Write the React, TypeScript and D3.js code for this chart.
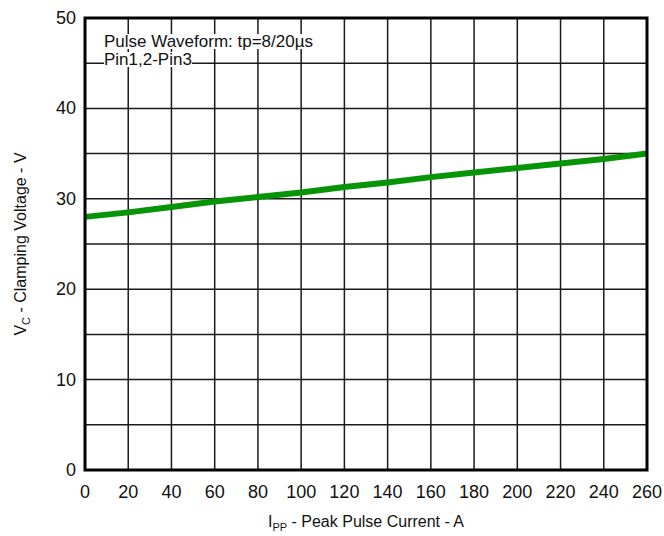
import React, { useEffect, useRef } from "react";
import * as d3 from "d3";

const currentA = [0, 20, 40, 60, 80, 100, 120, 140, 160, 180, 200, 220, 240, 260];
const clampV = [28, 28.5, 29.1, 29.7, 30.2, 30.7, 31.3, 31.8, 32.4, 32.9, 33.4, 33.9, 34.4, 35];
const xTicks = [0, 20, 40, 60, 80, 100, 120, 140, 160, 180, 200, 220, 240, 260];
const yTicks = [0, 10, 20, 30, 40, 50];
const yGrid = [5, 10, 15, 20, 25, 30, 35, 40, 45];
const notes = ["Pulse Waveform: tp=8/20µs", "Pin1,2-Pin3"];

export default function App() {
  const svgRef = useRef<SVGSVGElement>(null);

  useEffect(() => {
    if (!svgRef.current) return;
    document.body.style.margin = "0";

    const width = 664;
    const height = 536;
    const marginTop = 18;
    const marginRight = 17;
    const marginBottom = 66;
    const marginLeft = 85;
    const font = "'Liberation Sans', Arial, sans-serif";

    d3.select(svgRef.current).selectAll("*").remove();

    const svg = d3.select(svgRef.current)
      .attr("width", width)
      .attr("height", height)
      .attr("viewBox", [0, 0, width, height])
      .style("font-family", font);

    svg.append("rect").attr("width", width).attr("height", height).attr("fill", "white");

    const x = d3.scaleLinear().domain([0, 260]).range([marginLeft, width - marginRight]);
    const y = d3.scaleLinear().domain([0, 50]).range([height - marginBottom, marginTop]);

    // grid
    const grid = svg.append("g").attr("stroke", "#1a1a1a").attr("stroke-width", 1.5);
    grid.selectAll("line.v")
      .data(xTicks.slice(1, -1))
      .join("line")
      .attr("x1", d => x(d)).attr("x2", d => x(d))
      .attr("y1", y(50)).attr("y2", y(0));
    grid.selectAll("line.h")
      .data(yGrid)
      .join("line")
      .attr("x1", x(0)).attr("x2", x(260))
      .attr("y1", d => y(d)).attr("y2", d => y(d));

    // annotation with white backgrounds
    const ann = svg.append("g");
    notes.forEach((t, i) => {
      const txt = ann.append("text")
        .attr("x", 104)
        .attr("y", 47 + i * 18)
        .style("font-size", "17px")
        .attr("fill", "#111")
        .text(t);
      const bb = (txt.node() as SVGTextElement).getBBox();
      ann.insert("rect", "text")
        .attr("x", bb.x)
        .attr("y", bb.y + 2)
        .attr("width", bb.width)
        .attr("height", bb.height - 4)
        .attr("fill", "white");
    });

    // data line
    const line = d3.line<number>()
      .x((_, i) => x(currentA[i]))
      .y(d => y(d));
    svg.append("path")
      .datum(clampV)
      .attr("fill", "none")
      .attr("stroke", "#079407")
      .attr("stroke-width", 6)
      .attr("d", line);

    // frame
    svg.append("rect")
      .attr("x", x(0)).attr("y", y(50))
      .attr("width", x(260) - x(0)).attr("height", y(0) - y(50))
      .attr("fill", "none")
      .attr("stroke", "black")
      .attr("stroke-width", 3);

    // tick labels
    svg.append("g").selectAll("text")
      .data(xTicks)
      .join("text")
      .attr("x", d => x(d))
      .attr("y", y(0) + 28)
      .attr("text-anchor", "middle")
      .style("font-size", "18px")
      .attr("fill", "#111")
      .text(d => d);
    svg.append("g").selectAll("text")
      .data(yTicks)
      .join("text")
      .attr("x", x(0) - 9)
      .attr("y", d => y(d) + 6)
      .attr("text-anchor", "end")
      .style("font-size", "18px")
      .attr("fill", "#111")
      .text(d => d);

    // axis titles
    const xt = svg.append("text")
      .attr("x", (x(0) + x(260)) / 2)
      .attr("y", 527)
      .attr("text-anchor", "middle")
      .style("font-size", "16px")
      .attr("fill", "#111");
    xt.append("tspan").text("I");
    xt.append("tspan").attr("dy", 4).style("font-size", "11px").text("PP");
    xt.append("tspan").attr("dy", -4).text(" - Peak Pulse Current - A");

    const yt = svg.append("text")
      .attr("transform", `translate(26, ${(y(0) + y(50)) / 2}) rotate(-90)`)
      .attr("text-anchor", "middle")
      .style("font-size", "16px")
      .attr("fill", "#111");
    yt.append("tspan").text("V");
    yt.append("tspan").attr("dy", 4).style("font-size", "11px").text("C");
    yt.append("tspan").attr("dy", -4).text(" - Clamping Voltage - V");
  }, []);

  return <svg ref={svgRef}></svg>;
}
